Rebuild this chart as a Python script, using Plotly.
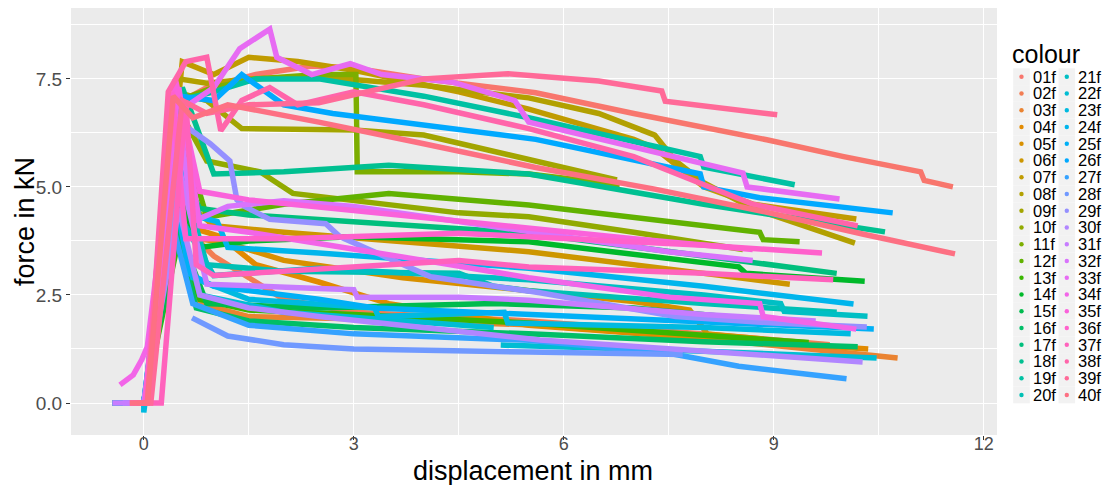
import math
import plotly.graph_objects as go

# ---------------- data ----------------
labels = ["%02df" % i for i in range(1, 41)]

f01_x = [-0.3, 0.05, 0.45, 0.9, 1.6, 2.4, 3.0, 4.0, 5.6, 7.0, 8.9, 10.0, 11.1, 11.15, 11.56]
f01_y = [0, 0, 6.9, 7.3, 7.6, 7.8, 7.75, 7.5, 7.18, 6.7, 6.09, 5.7, 5.35, 5.15, 5.0]
f02_x = [-0.4, 0.0, 0.45, 0.75, 1.0, 2.0, 3.0, 5.5, 8.0, 9.8]
f02_y = [0, 0, 4.6, 3.8, 3.4, 2.4, 2.1, 1.9, 1.6, 1.35]
f03_x = [-0.2, 0.02, 0.5, 0.8, 1.5, 3.0, 5.66, 8.0, 10.77]
f03_y = [0, 0, 4.2, 2.3, 2.0, 1.95, 1.8, 1.5, 1.04]
f04_x = [-0.45, 0.0, 0.45, 0.8, 1.1, 1.6, 2.5, 3.5, 5.5, 8.0, 10.35]
f04_y = [0, 0, 5.0, 4.0, 3.85, 3.2, 2.8, 2.3, 1.8, 1.5, 1.25]
f05_x = [-0.3, 0.0, 0.45, 0.8, 1.2, 2.0, 3.7, 5.5, 7.0, 7.8, 8.05, 8.85]
f05_y = [0, 0, 4.3, 3.8, 3.7, 3.3, 2.9, 2.6, 2.35, 2.15, 1.6, 1.48]
f06_x = [-0.35, 0.0, 0.5, 1.0, 2.0, 4.5, 5.5, 8.0, 9.23]
f06_y = [0, 0, 4.8, 4.1, 3.95, 3.65, 3.5, 3.0, 2.75]
f07_x = [-0.1, 0.05, 0.55, 1.0, 1.5, 2.2, 3.0, 4.5, 5.5, 7.0, 7.3, 8.0, 8.7, 10.18]
f07_y = [0, 0, 7.9, 7.6, 8.0, 7.9, 7.7, 7.2, 6.8, 6.1, 5.9, 5.0, 4.6, 4.26]
f08_x = [-0.2, 0.05, 0.5, 0.9, 1.5, 2.5, 4.0, 5.5, 6.5, 7.3, 7.6, 8.0, 8.7, 10.16]
f08_y = [0, 0, 7.5, 7.4, 7.5, 7.55, 7.35, 7.06, 6.7, 6.2, 5.6, 5.1, 4.5, 3.7]
f09_x = [-0.25, 0.05, 0.45, 0.9, 1.4, 3.0, 4.0, 5.5, 6.76]
f09_y = [0, 0, 7.2, 7.0, 6.35, 6.32, 6.2, 5.65, 5.16]
f10_x = [-0.15, 0.05, 0.5, 0.9, 1.66, 2.13, 4.5, 5.5, 7.0, 8.56]
f10_y = [0, 0, 6.8, 5.6, 5.35, 4.85, 4.4, 4.31, 3.95, 3.55]
f11_x = [-0.1, 0.05, 0.5, 1.0, 1.6, 2.5, 3.03, 3.05, 4.5, 5.5, 6.8]
f11_y = [0, 0, 7.0, 7.3, 7.5, 7.6, 7.6, 5.35, 5.35, 5.3, 5.05]
f12_x = [-0.2, 0.05, 0.5, 0.9, 2.0, 3.5, 5.5, 8.8, 8.85, 9.37]
f12_y = [0, 0, 6.5, 4.3, 4.6, 4.85, 4.58, 3.95, 3.78, 3.73]
f13_x = [-0.3, 0.0, 0.5, 0.8, 1.5, 3.0, 5.5, 8.0, 9.5]
f13_y = [0, 0, 3.8, 2.4, 2.15, 2.05, 1.85, 1.55, 1.4]
f14_x = [-0.25, 0.0, 0.5, 0.8, 1.5, 3.0, 5.5, 8.5, 8.6, 10.3]
f14_y = [0, 0, 4.8, 3.6, 3.75, 3.85, 3.73, 3.15, 3.0, 2.82]
f15_x = [-0.2, 0.0, 0.5, 0.9, 2.5, 5.0, 7.0, 9.27]
f15_y = [0, 0, 4.0, 2.3, 2.2, 2.3, 2.2, 1.85]
f16_x = [-0.15, 0.0, 0.45, 0.75, 1.5, 3.0, 5.5, 8.0, 10.2]
f16_y = [0, 0, 4.1, 2.2, 1.9, 1.75, 1.6, 1.42, 1.3]
f17_x = [-0.35, 0.0, 0.45, 0.8, 1.5, 3.0, 5.5, 8.0, 9.9]
f17_y = [0, 0, 5.6, 4.5, 4.35, 4.2, 3.93, 3.4, 3.0]
f18_x = [-0.1, 0.05, 0.55, 0.85, 1.0, 2.0, 3.5, 5.5, 8.0, 10.59]
f18_y = [0, 0, 7.3, 6.0, 5.3, 5.35, 5.5, 5.3, 4.6, 3.96]
f19_x = [-0.2, 0.05, 0.5, 1.0, 1.6, 2.5, 4.0, 5.5, 7.95, 8.0, 9.3]
f19_y = [0, 0, 7.0, 7.2, 7.5, 7.5, 7.1, 6.6, 5.7, 5.46, 5.05]
f20_x = [-0.3, 0.0, 0.5, 0.9, 2.0, 4.5, 5.0, 5.5, 8.0, 9.9]
f20_y = [0, 0, 5.5, 3.2, 3.05, 3.0, 2.7, 2.6, 2.3, 2.1]
f21_x = [-0.45, 0.0, 0.45, 1.0, 2.5, 4.0, 5.5, 8.0, 9.1, 9.15, 10.34]
f21_y = [0, 0, 4.5, 2.95, 3.12, 3.0, 2.85, 2.5, 2.3, 2.12, 2.01]
f22_x = [-0.4, 0.0, 0.45, 0.8, 2.0, 4.0, 5.0, None, 5.1, 8.0, 10.47]
f22_y = [0, 0, 4.6, 2.5, 2.1, 1.85, 1.75, None, 1.34, 1.2, 1.04]
f23_x = [-0.45, 0.0, 0.0, 0.4, 0.7, 1.5, 3.3, 3.35, 5.15, 5.2, 8.0, 10.1]
f23_y = [0, 0, -0.22, 5.0, 2.9, 2.4, 2.2, 2.0, 2.1, 1.85, 1.75, 1.6]
f24_x = [-0.3, 0.0, 0.45, 0.8, 1.05, 1.2, 2.5, 5.5, 8.0, 10.14]
f24_y = [0, 0, 6.0, 4.3, 4.2, 3.6, 3.47, 3.12, 2.7, 2.29]
f25_x = [-0.2, 0.0, 0.4, 0.65, 1.0, 2.5, 3.3, 5.5, 8.0, 10.43]
f25_y = [0, 0, 5.2, 3.0, 2.7, 2.4, 2.2, 2.05, 1.9, 1.71]
f26_x = [-0.1, 0.05, 0.5, 1.0, 1.4, 2.0, 2.7, 5.6, 7.95, 8.0, 8.8, 10.7]
f26_y = [0, 0, 7.1, 7.0, 7.6, 6.9, 6.7, 6.1, 5.3, 5.0, 4.75, 4.4]
f27_x = [-0.15, 0.0, 0.4, 0.7, 1.5, 3.0, 5.5, 7.5, 8.5, 10.04]
f27_y = [0, 0, 4.2, 2.3, 1.8, 1.6, 1.45, 1.15, 0.85, 0.56]
f28_x = [0.69, 1.2, 2.0, 3.0, 5.5, 7.7]
f28_y = [1.97, 1.55, 1.35, 1.25, 1.18, 1.12]
f29_x = [-0.2, 0.05, 0.6, 0.95, 1.23, 1.33, 1.44, 1.8, 2.6, 2.8, 4.1, 5.66, 7.6, 9.0, 10.33]
f29_y = [0, 0, 6.4, 6.0, 5.6, 4.7, 4.55, 4.25, 4.15, 3.85, 2.92, 2.55, 2.0, 1.85, 1.76]
f30_x = [-0.3, 0.0, 0.5, 0.8, 1.5, 2.5, 5.66, 8.0, 10.27]
f30_y = [0, 0, 4.5, 2.5, 2.2, 2.0, 1.46, 1.2, 0.95]
f31_x = [-0.45, 0.0, 0.45, 0.9, 2.5, 3.0, 3.05, 4.5, 5.5, 8.0, 9.6]
f31_y = [0, 0, 5.8, 2.75, 2.65, 2.62, 2.45, 2.45, 2.38, 2.05, 1.9]
f32_x = [-0.2, 0.05, 0.5, 0.7, 1.2, 2.0, 3.0, 4.5, 5.5, 7.5, 8.7]
f32_y = [0, 0, 6.6, 4.2, 4.55, 4.68, 4.55, 4.2, 3.95, 3.5, 3.3]
f33_x = [-0.1, 0.05, 0.55, 1.0, 1.37, 1.8, 1.9, 2.4, 2.95, 3.4, 4.4, 5.3, 5.5, 8.56, 8.62, 9.94]
f33_y = [0, 0, 6.8, 7.3, 8.2, 8.65, 8.0, 7.6, 7.85, 7.6, 7.43, 7.0, 6.5, 5.32, 5.0, 4.72]
f34_x = [-0.34, -0.15, -0.03, 0.05, 0.5, 0.8, 1.5, 2.7, 4.0, 5.5, 7.5, 8.8, 8.85, 10.18]
f34_y = [0.42, 0.65, 1.0, 1.3, 7.3, 4.1, 3.95, 3.65, 3.3, 2.9, 2.45, 2.3, 2.0, 1.71]
f35_x = [-0.15, 0.05, 0.45, 0.8, 1.5, 3.0, 4.5, 5.5, 7.0, 8.7]
f35_y = [0, 0, 7.5, 4.9, 4.7, 4.45, 4.2, 4.05, 3.8, 3.55]
f36_x = [-0.2, 0.02, 0.4, 0.6, 2.0, 4.5, 5.5, 8.0, 9.69]
f36_y = [0, 0, 7.2, 3.8, 3.8, 3.93, 3.85, 3.65, 3.47]
f37_x = [0.0, 0.25, 0.6, 0.75, 1.0, 3.0, 4.5, 5.5, 8.0, 9.85]
f37_y = [0, 0, 7.0, 3.2, 2.95, 3.15, 3.3, 3.15, 3.0, 2.85]
f38_x = [-0.1, 0.05, 0.35, 0.6, 0.9, 1.1, 1.4, 1.8, 2.2, 3.0, 4.0, 5.5, 7.0, 8.7, 10.2]
f38_y = [0, 0, 7.2, 7.9, 8.0, 6.3, 7.0, 7.3, 6.9, 7.2, 6.9, 6.35, 5.7, 4.6, 4.1]
f39_x = [-0.05, 0.1, 0.55, 0.9, 1.5, 2.5, 4.0, 5.2, 6.5, 7.4, 7.45, 9.05]
f39_y = [0, 0, 7.0, 6.7, 6.9, 6.95, 7.5, 7.62, 7.45, 7.22, 6.98, 6.67]
f40_x = [-0.2, 0.05, 0.42, 0.7, 1.2, 2.5, 4.0, 5.6, 7.3, 8.8, 10.3, 11.59]
f40_y = [0, 0, 7.1, 6.6, 6.9, 6.5, 6.0, 5.45, 4.95, 4.45, 3.9, 3.45]

x_ticks = [0, 3, 6, 9, 12]
y_ticks = [0.0, 2.5, 5.0, 7.5]
y_tick_text = ["0.0", "2.5", "5.0", "7.5"]

SERIES_X = [f01_x, f02_x, f03_x, f04_x, f05_x, f06_x, f07_x, f08_x, f09_x, f10_x,
            f11_x, f12_x, f13_x, f14_x, f15_x, f16_x, f17_x, f18_x, f19_x, f20_x,
            f21_x, f22_x, f23_x, f24_x, f25_x, f26_x, f27_x, f28_x, f29_x, f30_x,
            f31_x, f32_x, f33_x, f34_x, f35_x, f36_x, f37_x, f38_x, f39_x, f40_x]
SERIES_Y = [f01_y, f02_y, f03_y, f04_y, f05_y, f06_y, f07_y, f08_y, f09_y, f10_y,
            f11_y, f12_y, f13_y, f14_y, f15_y, f16_y, f17_y, f18_y, f19_y, f20_y,
            f21_y, f22_y, f23_y, f24_y, f25_y, f26_y, f27_y, f28_y, f29_y, f30_y,
            f31_y, f32_y, f33_y, f34_y, f35_y, f36_y, f37_y, f38_y, f39_y, f40_y]


# ---------------- ggplot2 default hue palette ----------------
def hcl_hex(h, c=100.0, l=65.0):
    Xn, Yn, Zn = 95.047, 100.0, 108.883
    hr = math.radians(h)
    U, V = c * math.cos(hr), c * math.sin(hr)
    Y = Yn * ((l + 16.0) / 116.0) ** 3
    den = Xn + 15 * Yn + 3 * Zn
    un, vn = 4 * Xn / den, 9 * Yn / den
    u = U / (13 * l) + un
    v = V / (13 * l) + vn
    X = 9.0 * Y * u / (4 * v)
    Z = Y * (12 - 3 * u - 20 * v) / (4 * v)
    X, Y, Z = X / 100, Y / 100, Z / 100
    r = 3.240479 * X - 1.537150 * Y - 0.498535 * Z
    g = -0.969256 * X + 1.875992 * Y + 0.041556 * Z
    b = 0.055648 * X - 0.204043 * Y + 1.057311 * Z

    def gam(t):
        t = 12.92 * t if t <= 0.0031308 else 1.055 * t ** (1 / 2.4) - 0.055
        return int(round(min(1, max(0, t)) * 255))
    return "#%02X%02X%02X" % (gam(r), gam(g), gam(b))


n = len(labels)
colors = [hcl_hex(15 + 360.0 * i / n) for i in range(n)]

# ---------------- figure ----------------
# the page body has an 8px margin, so the figure is drawn 8px in from the
# window's top-left corner; all page-pixel positions below are shifted by it.
OFF = 8
W, H = 1110 - OFF, 485 - OFF
PLOT_L, PLOT_R, PLOT_T, PLOT_B = 71, 997, 8, 435          # page pixels
ML, MT = PLOT_L - OFF, PLOT_T - OFF
MR, MB = W - (PLOT_R - OFF), H - (PLOT_B - OFF)
PW, PH = PLOT_R - PLOT_L, PLOT_B - PLOT_T

fig = go.Figure()
for lab, xs, ys, col in zip(labels, SERIES_X, SERIES_Y, colors):
    fig.add_trace(go.Scatter(x=xs, y=ys, mode="lines", name=lab,
                             line=dict(color=col, width=5.5),
                             connectgaps=False, showlegend=False))


def px_to_paper_x(px):
    return (px - PLOT_L) / PW


def px_to_paper_y(py):
    return (PLOT_B - py) / PH


shapes = []
annotations = []
# axis titles
annotations.append(dict(text="displacement in mm", xref="paper", yref="paper",
                        x=px_to_paper_x(533), y=px_to_paper_y(470.5),
                        xanchor="center", yanchor="middle", showarrow=False,
                        font=dict(size=27, color="black")))
annotations.append(dict(text="force in kN", xref="paper", yref="paper",
                        x=px_to_paper_x(25), y=px_to_paper_y(222), textangle=-90,
                        xanchor="center", yanchor="middle", showarrow=False,
                        font=dict(size=27, color="black")))
# manual two-column legend (ggplot style)
annotations.append(dict(text="colour", xref="paper", yref="paper",
                        x=px_to_paper_x(1010), y=px_to_paper_y(54),
                        xanchor="left", yanchor="middle", showarrow=False,
                        font=dict(size=25, color="black")))
row_step = 16.75
for i, (lab, col) in enumerate(zip(labels, colors)):
    c, r = divmod(i, 20)
    cx = 1021.5 + c * 45.3
    cy = 76.7 + r * row_step
    shapes.append(dict(type="rect", xref="paper", yref="paper",
                       x0=px_to_paper_x(cx - 8.3), x1=px_to_paper_x(cx + 8.3),
                       y0=px_to_paper_y(cy - row_step / 2), y1=px_to_paper_y(cy + row_step / 2),
                       fillcolor="#F2F2F2", line=dict(width=0), layer="below"))
    shapes.append(dict(type="circle", xref="paper", yref="paper",
                       x0=px_to_paper_x(cx - 2.2), x1=px_to_paper_x(cx + 2.2),
                       y0=px_to_paper_y(cy - 2.2), y1=px_to_paper_y(cy + 2.2),
                       fillcolor=col, line=dict(width=0)))
    annotations.append(dict(text=lab, xref="paper", yref="paper",
                            x=px_to_paper_x(cx + 9.5), y=px_to_paper_y(cy),
                            xanchor="left", yanchor="middle", showarrow=False,
                            font=dict(size=16.5, color="black")))

fig.update_layout(
    width=W, height=H,
    margin=dict(l=ML, r=MR, t=MT, b=MB, pad=0, autoexpand=False),
    paper_bgcolor="white", plot_bgcolor="#EBEBEB",
    font=dict(family="Liberation Sans, Arial, sans-serif"),
    shapes=shapes, annotations=annotations,
    xaxis=dict(range=[-1.04, 12.19], tickvals=x_ticks, ticktext=[str(v) for v in x_ticks],
               showgrid=True, gridcolor="white", gridwidth=1.2, zeroline=False,
               ticks="outside", ticklen=4, tickcolor="#333333", tickwidth=1,
               tickfont=dict(size=18, color="#4D4D4D"), automargin=False,
               ticklabelstandoff=-12,
               minor=dict(tick0=0, dtick=1.5, showgrid=True, gridcolor="white", gridwidth=0.5),
               showline=False),
    yaxis=dict(range=[-0.74, 9.14], tickvals=y_ticks, ticktext=y_tick_text,
               showgrid=True, gridcolor="white", gridwidth=1.2, zeroline=False,
               ticks="outside", ticklen=4, tickcolor="#333333", tickwidth=1,
               tickfont=dict(size=19, color="#4D4D4D"), automargin=False,
               minor=dict(tick0=0, dtick=1.25, showgrid=True, gridcolor="white", gridwidth=0.5),
               showline=False),
)

fig.write_html("out.html")
